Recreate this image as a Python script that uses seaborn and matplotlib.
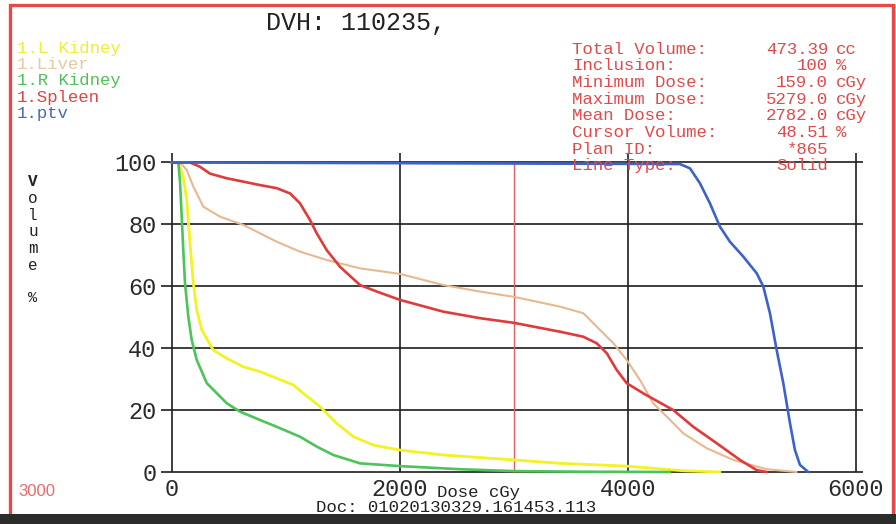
import pandas as pd
import matplotlib.pyplot as plt
import seaborn as sns
from matplotlib import patches

# DVH curves: dose (cGy) and volume (%)
lkid_dose = [0, 60, 103, 133, 162, 191, 221, 265, 366, 484, 630, 776, 922, 1068, 1156, 1302, 1448,
             1594, 1769, 2003, 2383, 3000, 3409, 3990, 4486, 4808]
lkid_vol = [100, 100, 95.4, 87.9, 73.9, 61.0, 52.3, 45.9, 39.4, 36.7, 34.0, 32.4, 30.3, 28.1, 25.4, 21.1, 15.7,
            11.4, 8.7, 7.1, 5.5, 3.9, 2.8, 1.9, 0.4, 0]

liver_dose = [0, 75, 133, 191, 279, 425, 630, 922, 1126, 1360, 1652, 2003, 2383, 2704, 3000, 3409, 3610,
              3756, 3873, 3990, 4107, 4223, 4341, 4486, 4691, 4925, 5217, 5480]
liver_vol = [100, 100, 97.6, 92.2, 85.7, 82.5, 79.8, 74.4, 71.2, 68.5, 65.8, 64.0, 60.4, 58.3, 56.6, 53.4, 51.3,
             45.9, 41.6, 36.2, 29.7, 22.2, 17.9, 12.5, 7.7, 3.9, 0.9, 0]

rkid_dose = [0, 60, 75, 89, 103, 118, 147, 177, 221, 309, 484, 600, 776, 922, 1126, 1273, 1418, 1652,
             2003, 2529, 3000, 3600, 4370]
rkid_vol = [100, 100, 93.3, 82.5, 71.7, 61.0, 50.2, 42.6, 36.2, 28.7, 22.2, 19.5, 16.8, 14.6, 11.4, 8.2, 5.5, 2.8,
            1.9, 0.9, 0.3, 0.1, 0]

spleen_dose = [0, 162, 250, 337, 484, 630, 776, 922, 1039, 1126, 1214, 1273, 1360, 1477, 1652, 1799, 2003,
               2383, 2704, 3000, 3409, 3610, 3727, 3815, 3902, 3990, 4136, 4399, 4574, 4779, 4983, 5130, 5217]
spleen_vol = [100, 100, 98.6, 96.4, 94.9, 93.8, 92.7, 91.7, 90.0, 86.8, 81.4, 77.1, 71.7, 66.3, 60.4, 58.3, 55.6,
              51.8, 49.7, 48.2, 45.3, 43.7, 41.6, 38.4, 33.0, 28.7, 25.4, 20.0, 14.6, 9.3, 3.9, 0.6, 0]

ptv_dose = [0, 4457, 4545, 4632, 4720, 4807, 4895, 5012, 5130, 5188, 5246, 5305, 5363, 5422, 5465, 5509, 5582]
ptv_vol = [100, 99.5, 98.1, 93.3, 86.8, 79.3, 74.4, 69.6, 64.2, 59.9, 51.3, 39.4, 28.7, 15.7, 7.1, 2.3, 0]

structures = ["1.L Kidney", "1.Liver", "1.R Kidney", "1.Spleen", "1.ptv"]
line_colors = ["#f2f224", "#e8b88e", "#4cc45a", "#e03a3a", "#3d63c8"]
text_colors = ["#eded3a", "#e6c8a4", "#52c05a", "#e04444", "#4a66c0"]
line_widths = [2.0, 1.5, 1.9, 1.9, 1.9]
curves = [(lkid_dose, lkid_vol), (liver_dose, liver_vol), (rkid_dose, rkid_vol),
          (spleen_dose, spleen_vol), (ptv_dose, ptv_vol)]

x_ticks = [0, 2000, 4000, 6000]
y_ticks = [0, 20, 40, 60, 80, 100]
cursor_dose = 3000

info_labels = ["Total Volume:", "Inclusion:", "Minimum Dose:", "Maximum Dose:", "Mean Dose:",
               "Cursor Volume:", "Plan ID:", "Line Type:"]
info_values = ["473.39", "100", "159.0", "5279.0", "2782.0", "48.51", "*865", "Solid"]
info_units = ["cc", "%", "cGy", "cGy", "cGy", "%", "", ""]

sns.set_style("white")
plt.rcParams['font.family'] = ['Liberation Mono', 'DejaVu Sans Mono']

W, H = 896, 524
fig = plt.figure(figsize=(W / 100, H / 100), dpi=100)
fig.patch.set_facecolor("white")


def fx(x):
    return x / W


def fy(y):
    return 1 - y / H


# frame and dark band at the bottom
fig.add_artist(patches.Rectangle((fx(9.5), fy(516)), fx(893) - fx(9.5), fy(5) - fy(516),
                                 fill=False, edgecolor="#e84848", linewidth=2.4, transform=fig.transFigure))
fig.add_artist(patches.Rectangle((0, 0), 1, fy(514), facecolor="#2c2c2c", edgecolor="none",
                                 transform=fig.transFigure))

ax = fig.add_axes([fx(160.7), fy(475.1), fx(862.8) - fx(160.7), fy(150.1) - fy(475.1)])
ax.set_facecolor("none")
ax.set_xlim(-95, 6060)
ax.set_ylim(-1, 104)
for s in ax.spines.values():
    s.set_visible(False)

# grid drawn as black lines
ax.hlines(y_ticks, -95, 6060, color="#1e1e1e", linewidth=1.2, zorder=1)
ax.vlines(x_ticks, 0, 103, color="#1e1e1e", linewidth=1.2, zorder=1)
ax.vlines([cursor_dose], 0, 100, color="#e06060", linewidth=1.0, zorder=2)

for name, (d, v), c, lw in zip(structures, curves, line_colors, line_widths):
    df = pd.DataFrame({"dose": d, "vol": v})
    sns.lineplot(data=df, x="dose", y="vol", color=c, linewidth=lw, sort=False,
                 estimator=None, ax=ax, zorder=3)

ax.set_xticks(x_ticks)
ax.set_yticks(y_ticks)
ax.set_xticklabels([str(t) for t in x_ticks])
ax.set_yticklabels([str(t) for t in y_ticks])
ax.tick_params(axis="both", length=0, labelsize=17, colors="#2a2a2a")
ax.tick_params(axis="x", pad=2)
ax.tick_params(axis="y", pad=3)
ax.set_xlabel("")
ax.set_ylabel("")

# texts
fig.text(fx(356), fy(23), "DVH: 110235,", fontsize=18, ha="center", va="center", color="#222222")
for i, (name, tc) in enumerate(zip(structures, text_colors)):
    fig.text(fx(17), fy(48 + i * 16.4), name, fontsize=12.5, ha="left", va="center", color=tc)

red_txt = "#e04a4a"
for i, (lab, val, unit) in enumerate(zip(info_labels, info_values, info_units)):
    yy = fy(49 + i * 16.7)
    fig.text(fx(572), yy, lab, fontsize=12.5, ha="left", va="center", color=red_txt)
    fig.text(fx(828), yy, val, fontsize=12.5, ha="right", va="center", color=red_txt)
    if unit:
        fig.text(fx(836), yy, unit, fontsize=12.5, ha="left", va="center", color=red_txt)

for i, ch in enumerate("Volume"):
    fig.text(fx(33), fy(182 + i * 16.6), ch, fontsize=11.5, ha="center", va="center",
             color="#222222", fontweight="bold" if i == 0 else "normal")
fig.text(fx(33), fy(298), "%", fontsize=11, ha="center", va="center", color="#222222")

fig.text(fx(478), fy(493), "Dose cGy", fontsize=12.5, ha="center", va="center", color="#222222")
fig.text(fx(456), fy(508), "Doc: 01020130329.161453.113", fontsize=12.5, ha="center", va="center",
         color="#222222")
fig.text(fx(18), fy(491), "3000", fontsize=12, ha="left", va="center", color="#e86a6a",
         family="Liberation Sans")

plt.savefig("out.png", dpi=100)
